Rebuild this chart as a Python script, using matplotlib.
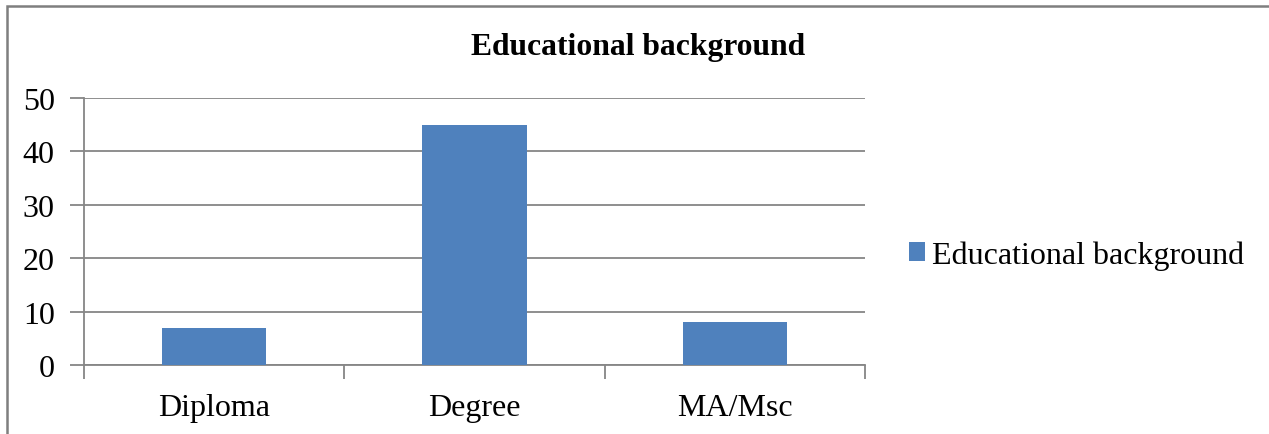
import matplotlib.pyplot as plt
from matplotlib.patches import Rectangle

categories = ["Diploma", "Degree", "MA/Msc"]
values = [7, 45, 8]
series_name = "Educational background"
title = "Educational background"
yticks = [0, 10, 20, 30, 40, 50]

plt.rcParams["font.family"] = ["Liberation Serif", "DejaVu Serif"]
grey = "#868686"

fig = plt.figure(figsize=(12.69, 4.35), dpi=100)
ax = fig.add_axes([84 / 1269, 1 - 366 / 435, (865 - 84) / 1269, (366 - 99) / 435])

x = list(range(len(categories)))
ax.bar(x, values, width=0.4, color="#4F81BD", label=series_name, zorder=3)

ax.set_xlim(-0.5, len(categories) - 0.5)
ax.set_ylim(0, 50)
ax.set_yticks(yticks)
ax.set_yticklabels([str(t) for t in yticks], fontsize=23)
ax.yaxis.grid(True, color=grey, linewidth=1.3, zorder=0)

ax.set_xticks([i - 0.5 for i in range(len(categories) + 1)])
ax.set_xticklabels([])
ax.set_xticks(x, minor=True)
ax.set_xticklabels(categories, minor=True, fontsize=23)
ax.tick_params(axis="x", which="minor", length=0, pad=20)
ax.tick_params(axis="x", which="major", length=10, width=1.3, color=grey)
ax.tick_params(axis="y", length=10, width=1.3, color=grey, pad=11)

for side in ["top", "right"]:
    ax.spines[side].set_visible(False)
for side in ["left", "bottom"]:
    ax.spines[side].set_color(grey)
    ax.spines[side].set_linewidth(1.3)

fig.text(638 / 1269, 1 - 47 / 435, title, ha="center", va="center",
         fontsize=22.8, fontweight="bold")

fig.legend(loc="center left", bbox_to_anchor=(896 / 1269, 1 - 256 / 435),
           frameon=False, fontsize=23, handlelength=0.5, handleheight=0.5,
           handletextpad=0.22, borderaxespad=0)

fig.patches.append(Rectangle((7 / 1269, -0.1), 1.2, 1 - 7 / 435 + 0.1,
                             transform=fig.transFigure, fill=False,
                             edgecolor="#7f7f7f", linewidth=1.8))

fig.savefig("out.png", dpi=100)
